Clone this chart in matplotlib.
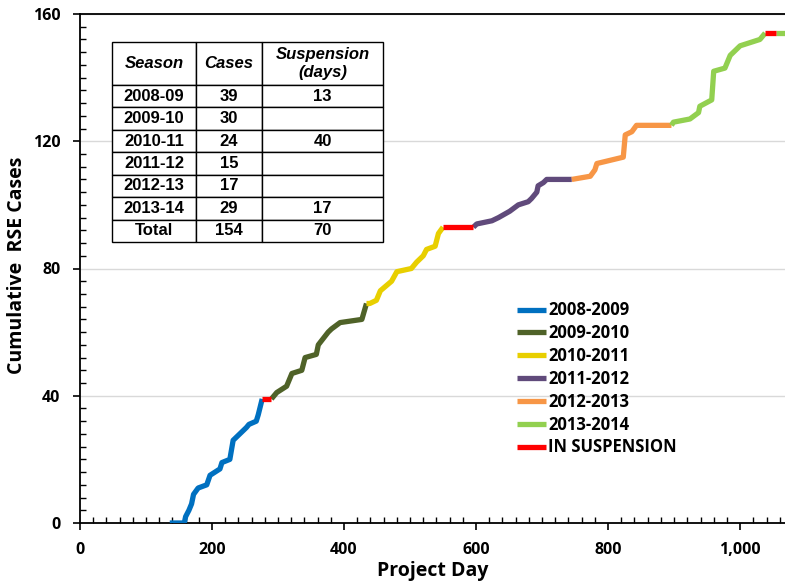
import matplotlib.pyplot as plt
from matplotlib.ticker import MultipleLocator, FuncFormatter

plt.rcParams['font.family'] = ['Open Sans', 'DejaVu Sans']

# sezon bazinda kumulatif vakalar (gun, vaka)
s0809_day = [136, 158, 160, 165, 169, 172, 179, 192, 197, 212, 215, 227, 232, 242, 252, 256, 267, 270, 276]
s0809_cum = [0, 0, 2, 4, 6, 9, 11, 12, 15, 17, 19, 20, 26, 28, 30, 31, 32, 34, 39]
s0910_day = [290, 298, 313, 321, 336, 341, 358, 361, 376, 381, 394, 427, 434]
s0910_cum = [39, 41, 43, 47, 48, 52, 53, 56, 60, 61, 63, 64, 69]
s1011_day = [434, 439, 449, 455, 472, 480, 502, 510, 520, 525, 538, 543, 550]
s1011_cum = [69, 69, 70, 73, 76, 79, 80, 82, 84, 86, 87, 91, 93]
s1112_day = [596, 601, 624, 634, 651, 664, 679, 684, 692, 694, 702, 707, 745]
s1112_cum = [93, 94, 95, 96, 98, 100, 101, 102, 104, 106, 107, 108, 108]
s1213_day = [745, 773, 780, 783, 823, 826, 836, 843, 896]
s1213_cum = [108, 109, 111, 113, 115, 122, 123, 125, 125]
s1314_day = [896, 899, 924, 937, 939, 957, 960, 977, 985, 1000, 1030, 1038]
s1314_cum = [125, 126, 127, 129, 131, 133, 142, 143, 147, 150, 152, 154]
s1314b_day = [1054, 1070]
s1314b_cum = [154, 154]

# uzaklastirma donemleri
susp_day = [[276, 290], [550, 596], [1038, 1054]]
susp_cum = [[39, 39], [93, 93], [154, 154]]

seasons = ['2008-2009', '2009-2010', '2010-2011', '2011-2012', '2012-2013', '2013-2014']
colors = ['#0070C0', '#4F6228', '#E8CF00', '#604A7B', '#F79646', '#92D050']

# tablo verisi
tbl_header = ['Season', 'Cases', 'Suspension\n(days)']
tbl_rows = [
    ['2008-09', '39', '13'],
    ['2009-10', '30', ''],
    ['2010-11', '24', '40'],
    ['2011-12', '15', ''],
    ['2012-13', '17', ''],
    ['2013-14', '29', '17'],
    ['Total', '154', '70'],
]

fig = plt.figure(figsize=(7.85, 5.83), dpi=100)
ax = fig.add_axes([80 / 785, 1 - 523 / 583, 705 / 785, 509 / 583])

lw = 3.8
series = [(s0809_day, s0809_cum), (s0910_day, s0910_cum), (s1011_day, s1011_cum),
          (s1112_day, s1112_cum), (s1213_day, s1213_cum), (s1314_day, s1314_cum)]
for (d, c), col, lab in zip(series, colors, seasons):
    ax.plot(d, c, color=col, lw=lw, label=lab, solid_capstyle='butt',
            solid_joinstyle='round', zorder=3)
ax.plot(s1314b_day, s1314b_cum, color=colors[5], lw=lw, solid_capstyle='butt', zorder=3)
for i, (d, c) in enumerate(zip(susp_day, susp_cum)):
    ax.plot(d, c, color='#FF0000', lw=lw, solid_capstyle='butt', zorder=4,
            label='IN SUSPENSION' if i == 0 else None)

ax.set_xlim(0, 1068)
ax.set_ylim(0, 160)
ax.xaxis.set_major_locator(MultipleLocator(200))
ax.xaxis.set_minor_locator(MultipleLocator(20))
ax.yaxis.set_major_locator(MultipleLocator(40))
ax.yaxis.set_minor_locator(MultipleLocator(4))
ax.xaxis.set_major_formatter(FuncFormatter(lambda v, p: f'{int(v):,}'))
ax.tick_params(which='major', direction='out', length=5, width=1.2, labelsize=11.5, pad=9)
ax.tick_params(which='minor', direction='in', length=4, width=1)
for t in ax.get_xticklabels() + ax.get_yticklabels():
    t.set_fontweight('bold')

ax.grid(axis='y', which='major', color='#D9D9D9', lw=1, zorder=0)
ax.spines['right'].set_visible(False)
for s in ['left', 'bottom', 'top']:
    ax.spines[s].set_linewidth(1.3)

ax.set_xlabel('Project Day', fontsize=14, fontweight='bold', labelpad=2)
ax.set_ylabel('Cumulative  RSE Cases', fontsize=14, fontweight='bold')
ax.yaxis.set_label_coords(-0.075, 0.507)

leg = ax.legend(loc='upper left', bbox_to_anchor=(509 / 785, 1 - 293 / 583),
                bbox_transform=fig.transFigure, frameon=False,
                prop={'weight': 'bold', 'size': 12}, handlelength=1.7,
                handletextpad=0.15, labelspacing=0.29, borderpad=0)

# tablo
tb = ax.table(cellText=[tbl_header] + tbl_rows, cellLoc='center',
              colWidths=[84, 66, 121],
              bbox=[(112 - 80) / 705, (523 - 242) / 509, 271 / 705, 200 / 509],
              zorder=5)
tb.auto_set_font_size(False)
for (r, c), cell in tb.get_celld().items():
    cell.set_edgecolor('black')
    cell.set_linewidth(1)
    cell.set_facecolor('white')
    cell.set_height(43 if r == 0 else 22.4)
    txt = cell.get_text()
    txt.set_fontfamily('Liberation Sans')
    txt.set_fontsize(12)
    txt.set_fontweight('bold')
    if r == 0:
        txt.set_fontstyle('italic')

fig.savefig('out.png', dpi=100)
